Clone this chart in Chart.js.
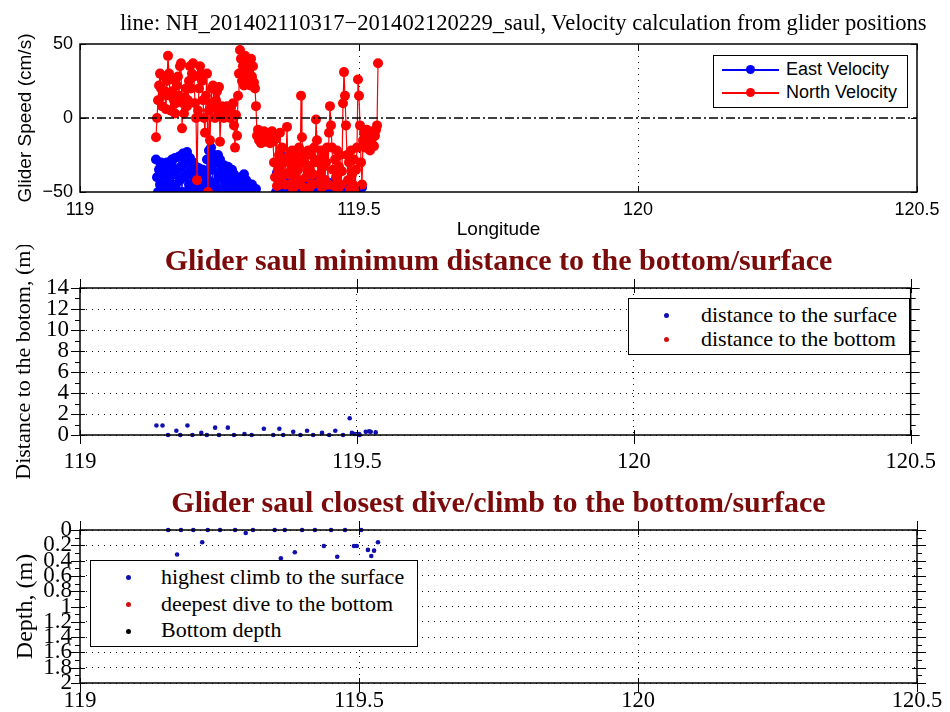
<!DOCTYPE html>
<html><head><meta charset="utf-8">
<script src="https://cdn.jsdelivr.net/npm/chart.js@4.4.1/dist/chart.umd.min.js"></script>
<style>
html,body{margin:0;padding:0;background:#fff;}
#wrap{position:relative;width:950px;height:712px;overflow:hidden;background:#fff;}
canvas{position:absolute;left:0;}
.txt{position:absolute;white-space:nowrap;line-height:1;color:#000;}
.serif{font-family:"Liberation Serif","Times New Roman",serif;}
.sans{font-family:"Liberation Sans",Arial,sans-serif;}
.ptitle{font-weight:bold;color:#7b0a0a;font-size:30px;text-align:center;left:80px;width:837px;}
.leg{position:absolute;background:#fff;border:1.5px solid #000;box-sizing:border-box;}
.row{position:absolute;white-space:nowrap;line-height:1;color:#000;}
.dot{position:absolute;width:5px;height:5px;border-radius:50%;}
.lline{position:absolute;height:1.5px;}
.ldot{position:absolute;width:9px;height:9px;border-radius:50%;}
</style></head><body><div id="wrap">
<canvas id="c1" width="950" height="245" style="top:0"></canvas>
<canvas id="c2" width="950" height="245" style="top:245px"></canvas>
<canvas id="c3" width="950" height="222" style="top:490px"></canvas>

<div class="txt serif" style="left:120px;top:12px;font-size:22.6px;">line: NH_201402110317−201402120229_saul, Velocity calculation from glider positions</div>
<div class="txt serif ptitle" style="top:245px;">Glider saul minimum distance to the bottom/surface</div>
<div class="txt serif ptitle" style="top:487px;">Glider saul closest dive/climb to the bottom/surface</div>

<div class="leg" style="left:713px;top:55px;width:195px;height:53px;">
  <div class="lline" style="left:8px;top:13px;width:57px;background:#0000ff;"></div>
  <div class="ldot" style="left:32px;top:9px;background:#0000ff;"></div>
  <div class="row sans" style="left:72px;top:4px;font-size:18px;">East Velocity</div>
  <div class="lline" style="left:8px;top:36px;width:57px;background:#ff0000;"></div>
  <div class="ldot" style="left:32px;top:32px;background:#ff0000;"></div>
  <div class="row sans" style="left:72px;top:27px;font-size:18px;">North Velocity</div>
</div>

<div class="leg" style="left:628px;top:298px;width:282px;height:57px;">
  <div class="dot" style="left:35px;top:14px;background:#1010b0;"></div>
  <div class="row serif" style="left:72px;top:5px;font-size:22px;">distance to the surface</div>
  <div class="dot" style="left:35px;top:38px;background:#d01010;"></div>
  <div class="row serif" style="left:72px;top:29px;font-size:22px;">distance to the bottom</div>
</div>

<div class="leg" style="left:90px;top:560px;width:328px;height:87px;">
  <div class="dot" style="left:35px;top:14px;background:#1010b0;"></div>
  <div class="row serif" style="left:70px;top:5px;font-size:22px;">highest climb to the surface</div>
  <div class="dot" style="left:35px;top:41px;background:#d01010;"></div>
  <div class="row serif" style="left:70px;top:32px;font-size:22px;">deepest dive to the bottom</div>
  <div class="dot" style="left:35px;top:68px;background:#000;"></div>
  <div class="row serif" style="left:70px;top:58px;font-size:22px;">Bottom depth</div>
</div>
</div>
<script>
// ---------- DATA ----------
const xTickVals = [119, 119.5, 120, 120.5];
const xTickLabels = ['119', '119.5', '120', '120.5'];
const speedTickVals = [-50, 0, 50];
const speedTickLabels = ['\u221250', '0', '50'];
const distTickVals = [0, 2, 4, 6, 8, 10, 12, 14];
const distTickLabels = ['0', '2', '4', '6', '8', '10', '12', '14'];
const depthTickVals = [0, 0.2, 0.4, 0.6, 0.8, 1, 1.2, 1.4, 1.6, 1.8, 2];
const depthTickLabels = ['0', '0.2', '0.4', '0.6', '0.8', '1', '1.2', '1.4', '1.6', '1.8', '2'];

// glider positions (longitude) of the velocity estimates
const velLon = [
119.1362,119.1380,119.1398,119.1416,119.1434,119.1452,119.1470,119.1487,119.1505,119.1523,
119.1541,119.1559,119.1577,119.1595,119.1613,119.1631,119.1649,119.1667,119.1685,119.1703,
119.1720,119.1738,119.1756,119.1774,119.1792,119.1810,119.1828,119.1846,119.1864,119.1882,
119.1900,119.1918,119.1935,119.1953,119.1971,119.1989,119.2007,119.2025,119.2043,119.2061,
119.2079,119.2097,119.2115,119.2133,119.2151,119.2168,119.2186,119.2204,119.2222,119.2240,
119.2258,119.2276,119.2294,119.2312,119.2330,119.2348,119.2366,119.2384,119.2401,119.2419,
119.2437,119.2455,119.2473,119.2491,119.2509,119.2527,119.2545,119.2563,119.2581,119.2599,
119.2616,119.2634,119.2652,119.2670,119.2688,119.2706,119.2724,119.2742,119.2760,119.2778,
119.2796,119.2814,119.2832,119.2849,119.2867,119.2885,119.2903,119.2921,119.2939,119.2957,
119.2975,119.2993,119.3011,119.3029,119.3047,119.3065,119.3082,119.3100,119.3118,119.3136,
119.3154,119.3172,119.3190,119.3208,119.3226,119.3244,119.3262,119.3280,119.3297,119.3315,
119.3333,119.3351,119.3369,119.3387,119.3405,119.3423,119.3441,119.3459,119.3477,119.3495,
119.3513,119.3530,119.3548,119.3566,119.3584,119.3602,119.3620,119.3638,119.3656,119.3674,
119.3692,119.3710,119.3728,119.3746,119.3763,119.3781,119.3799,119.3817,119.3835,119.3853,
119.3871,119.3889,119.3907,119.3925,119.3943,119.3961,119.3978,119.3996,119.4014,119.4032,
119.4050,119.4068,119.4086,119.4104,119.4122,119.4140,119.4158,119.4176,119.4194,119.4211,
119.4229,119.4247,119.4265,119.4283,119.4301,119.4319,119.4337,119.4355,119.4373,119.4391,
119.4409,119.4427,119.4444,119.4462,119.4480,119.4498,119.4516,119.4534,119.4552,119.4570,
119.4588,119.4606,119.4624,119.4642,119.4659,119.4677,119.4695,119.4713,119.4731,119.4749,
119.4767,119.4785,119.4803,119.4821,119.4839,119.4857,119.4875,119.4892,119.4910,119.4928,
119.4946,119.4964,119.4982,119.5000,119.5018,119.5036,119.5054,119.5072,119.5090,119.5108,
119.5125,119.5143,119.5161,119.5179,119.5197,119.5215,119.5233,119.5251,119.5269,119.5287,
119.5305,119.5323,119.5341];
const northVel = [
-13,0,12,22,30,20,8,15,28,18,
6,25,42,30,15,5,18,26,12,3,
10,22,28,15,35,37,-7,10,3,14,
20,8,12,25,35,20,30,37,28,10,
0,-42,5,20,35,30,25,12,0,-10,
15,30,-50,5,-15,10,20,22,8,0,
12,18,5,21,-16,2,8,5,0,6,
3,8,2,5,0,7,3,10,-5,-20,
2,-12,15,30,46,40,25,35,22,42,
30,38,25,32,22,40,28,35,24,20,
8,-12,-8,-15,-12,-17,-10,-14,-9,-16,
-12,-10,-15,-13,-17,-11,-9,-16,-30,-40,
-14,-46,-35,-25,-10,-44,-20,-38,-30,-45,
-28,-6,-38,-25,-45,-35,-22,-48,-30,-40,
-25,-45,-35,-20,-42,15,-13,-30,-47,-25,
-40,-32,-22,-48,-35,-25,-45,-38,-20,-30,
-1,-15,-44,-28,-38,-22,-47,-33,-25,-42,
-30,-20,-45,-10,8,-5,-20,-35,-46,-28,
-40,-22,-48,-33,-25,-45,-36,10,31,15,
-5,-25,-42,-30,-48,-22,-38,-45,-28,-50,
-35,-20,26,15,-5,-30,-45,-15,-10,-20,
-12,-8,-18,-15,-22,-10,-14,-9,-19,-12,
-8,-5,37];
const eastVel = [
-28,-40,-50,-35,-45,-30,-48,-38,-50,-35,
-44,-30,-50,-40,-32,-46,-28,-50,-38,-27,
-45,-35,-50,-26,-42,-33,-50,-24,-40,-30,
-50,-23,-38,-45,-27,-50,-35,-30,-48,-40,
-33,-50,-42,-34,-48,-38,-50,-35,-45,-40,
-50,-28,-42,-22,-48,-20,-35,-50,-25,-44,
-30,-50,-25,-40,-28,-48,-35,-50,-32,-45,
-38,-50,-33,-46,-40,-50,-35,-48,-38,-50,
-45,-42,-50,-45,-48,-40,-50,-44,-38,-50,
-42,-48,-44,-50,-46,-49,-45,-50,-48,-50,
-48,-60,-62,-58,-65,-60,-63,-58,-61,-60,
-62,-59,-63,-60,-61,-58,-64,-60,-62,-55,
-50,-37,-48,-42,-50,-30,-26,-45,-50,-40,
-48,-44,-50,-46,-45,-50,-42,-48,-50,-40,
-47,-50,-44,-49,-46,-50,-45,-48,-50,-42,
-47,-50,-45,-49,-46,-50,-44,-48,-50,-40,
-46,-50,-44,-49,-45,-50,-43,-48,-50,-42,
-47,-50,-45,-49,-46,-50,-44,-48,-50,-45,
-49,-47,-50,-48,-46,-50,-47,-49,-50,-47,
-50,-48,-49,-50,-48,-51,-50,-49,-52,-50,
-51,-53,-50,-55,-52,-54,-47,-58,-60,-62,
-58,-60,-61,-59,-60,-62,-58,-61,-60,-59,
-60,-62,-61];
const zeroLon = [119, 120.5];
const zeroVel = [0, 0];

// minimum distance to the surface
const surfLon = [119.138,119.149,119.159,119.174,119.181,119.194,119.203,119.219,119.229,119.244,
119.251,119.267,119.278,119.297,119.310,119.332,119.349,119.360,119.367,119.385,
119.398,119.410,119.421,119.437,119.450,119.461,119.475,119.487,119.491,119.496,
119.504,119.505,119.516,119.522,119.525,119.534];
const surfDist = [0.9,0.9,0.0,0.4,0.0,0.9,0.0,0.2,0.0,0.7,
0.0,0.7,0.0,0.1,0.0,0.6,0.0,0.6,0.0,0.3,
0.0,0.4,0.0,0.2,0.0,0.4,0.0,1.6,0.2,0.1,
0.1,0.0,0.3,0.35,0.3,0.25];
const bottomLon = [];
const bottomDist = [];

// highest climb to the surface
const climbLon = [119.158,119.174,119.181,119.203,119.219,119.229,119.251,119.278,119.297,119.310,
119.349,119.360,119.367,119.385,119.398,119.421,119.437,119.450,119.461,119.475,
119.491,119.496,119.504,119.516,119.522,119.527,119.534];
const climbDepth = [0,0.32,0,0,0.16,0,0,0,0.04,0,
0,0.37,0,0.29,0,0,0.21,0,0.35,0,
0.21,0.21,0,0.26,0.34,0.27,0.16];
const diveLon = [];
const diveDepth = [];
const bedLon = [];
const bedDepth = [];

// ---------- HELPERS ----------
const FS = '"Liberation Sans", Arial, sans-serif';
const FR = '"Liberation Serif", "Times New Roman", serif';
const pts = (xs, ys) => xs.map((x, i) => ({x: x, y: ys[i]}));
const lab = (vals, labels) => (v) => {
  const k = vals.findIndex(t => Math.abs(t - v) < 1e-6);
  return k >= 0 ? labels[k] : '';
};
const edgeClear = (c) => (c.tick && (Math.abs(c.tick.value - 119) < 1e-6 || Math.abs(c.tick.value - 120.5) < 1e-6)) ? 'rgba(0,0,0,0)' : '#111';

const frame = {
  id: 'frame',
  afterDraw(chart, args, o) {
    const {ctx, chartArea: a} = chart;
    const xs = chart.scales.x, ys = chart.scales.y;
    const Lo = o.outLen, Li = o.inLen;
    ctx.save();
    ctx.setLineDash([]);
    ctx.strokeStyle = '#000';
    ctx.lineWidth = 1;
    ctx.beginPath();
    xs.ticks.forEach(t => {
      const p = Math.round(xs.getPixelForValue(t.value)) + 0.5;
      ctx.moveTo(p, a.top - Lo); ctx.lineTo(p, a.top + Li);
      ctx.moveTo(p, a.bottom + Lo); ctx.lineTo(p, a.bottom - Li);
    });
    const yv = ys.ticks.map(t => t.value);
    yv.forEach(v => {
      const p = Math.round(ys.getPixelForValue(v)) + 0.5;
      ctx.moveTo(a.left - Lo, p); ctx.lineTo(a.left + Li, p);
      ctx.moveTo(a.right + Lo, p); ctx.lineTo(a.right - Li, p);
    });
    if (o.minor) {
      for (let i = 0; i < yv.length - 1; i++) {
        const p = Math.round(ys.getPixelForValue((yv[i] + yv[i + 1]) / 2)) + 0.5;
        ctx.moveTo(a.left, p); ctx.lineTo(a.left - o.minor, p);
        ctx.moveTo(a.right, p); ctx.lineTo(a.right + o.minor, p);
      }
    }
    ctx.stroke();
    ctx.lineWidth = 1.5;
    ctx.strokeRect(a.left, a.top, a.right - a.left, a.bottom - a.top);
    ctx.restore();
  }
};

const base = { responsive: false, animation: false, events: [], devicePixelRatio: 1 };

// ---------- PANEL 1 ----------
new Chart(document.getElementById('c1'), {
  type: 'line',
  data: { datasets: [
    { label: 'zero', data: pts(zeroLon, zeroVel), borderColor: '#000', borderWidth: 1.5,
      borderDash: [9, 3, 2, 3], pointRadius: 0, order: 0 },
    { label: 'North Velocity', data: pts(velLon, northVel), borderColor: '#ff0000', borderWidth: 1.2,
      pointRadius: 5, pointBackgroundColor: '#ff0000', pointBorderWidth: 0, order: 1 },
    { label: 'East Velocity', data: pts(velLon, eastVel), borderColor: '#0000ff', borderWidth: 1.2,
      pointRadius: 5, pointBackgroundColor: '#0000ff', pointBorderWidth: 0, order: 2 }
  ]},
  options: Object.assign({}, base, {
    layout: { padding: { left: 0, right: 33, top: 44, bottom: 0 } },
    plugins: { legend: { display: false }, tooltip: { enabled: false }, frame: { outLen: 0, inLen: 6, minor: 0 } },
    scales: {
      x: { type: 'linear', min: 119, max: 120.5,
        afterFit: s => { s.height = 53; },
        ticks: { stepSize: 0.5, padding: 7, autoSkip: false, maxRotation: 0, color: '#000',
          font: { family: FS, size: 18 }, callback: lab(xTickVals, xTickLabels) },
        grid: { drawTicks: false, color: edgeClear, lineWidth: 1 },
        border: { display: false, dash: [1, 5] },
        title: { display: true, text: 'Longitude', color: '#000', font: { family: FS, size: 19 }, padding: { bottom: 4, top: 0 } } },
      y: { type: 'linear', min: -50, max: 50,
        afterFit: s => { s.width = 80; },
        ticks: { stepSize: 50, padding: 7, autoSkip: false, color: '#000',
          font: { family: FS, size: 18 }, callback: lab(speedTickVals, speedTickLabels) },
        grid: { display: false, drawTicks: false },
        border: { display: false },
        title: { display: true, text: 'Glider Speed (cm/s)', color: '#000', font: { family: FS, size: 19 }, padding: { top: 14, bottom: 0 } } }
    }
  }),
  plugins: [frame]
});

// ---------- PANEL 2 ----------
new Chart(document.getElementById('c2'), {
  type: 'scatter',
  data: { datasets: [
    { label: 'distance to the surface', data: pts(surfLon, surfDist), pointRadius: 2.3,
      pointBackgroundColor: '#1010b0', pointBorderWidth: 0, showLine: false, clip: false },
    { label: 'distance to the bottom', data: pts(bottomLon, bottomDist), pointRadius: 2.3,
      pointBackgroundColor: '#d01010', pointBorderWidth: 0, showLine: false, clip: false }
  ]},
  options: Object.assign({}, base, {
    layout: { padding: { left: 0, right: 33, top: 43, bottom: 0 } },
    plugins: { legend: { display: false }, tooltip: { enabled: false }, frame: { outLen: 9, inLen: 5, minor: 5 } },
    scales: {
      x: { type: 'linear', min: 119, max: 120.5,
        afterFit: s => { s.height = 55; },
        ticks: { stepSize: 0.5, padding: 14, autoSkip: false, maxRotation: 0, color: '#000',
          font: { family: FR, size: 22.5 }, callback: lab(xTickVals, xTickLabels) },
        grid: { drawTicks: false, color: edgeClear, lineWidth: 1 },
        border: { display: false, dash: [1, 5] } },
      y: { type: 'linear', min: 0, max: 14,
        afterFit: s => { s.width = 80; },
        ticks: { stepSize: 2, padding: 11, autoSkip: false, color: '#000',
          font: { family: FR, size: 23 }, callback: lab(distTickVals, distTickLabels) },
        grid: { drawTicks: false, color: '#111', lineWidth: 1 },
        border: { display: false, dash: [1, 5] },
        title: { display: true, text: 'Distance to the botom, (m)', color: '#000', font: { family: FR, size: 22 }, padding: { top: 11, bottom: 0 } } }
    }
  }),
  plugins: [frame]
});

// ---------- PANEL 3 ----------
new Chart(document.getElementById('c3'), {
  type: 'scatter',
  data: { datasets: [
    { label: 'highest climb to the surface', data: pts(climbLon, climbDepth), pointRadius: 2.3,
      pointBackgroundColor: '#1010b0', pointBorderWidth: 0, showLine: false, clip: false },
    { label: 'deepest dive to the bottom', data: pts(diveLon, diveDepth), pointRadius: 2.3,
      pointBackgroundColor: '#d01010', pointBorderWidth: 0, showLine: false, clip: false },
    { label: 'Bottom depth', data: pts(bedLon, bedDepth), pointRadius: 2.3,
      pointBackgroundColor: '#000', pointBorderWidth: 0, showLine: false, clip: false }
  ]},
  options: Object.assign({}, base, {
    layout: { padding: { left: 0, right: 33, top: 40, bottom: 0 } },
    plugins: { legend: { display: false }, tooltip: { enabled: false }, frame: { outLen: 9, inLen: 5, minor: 5 } },
    scales: {
      x: { type: 'linear', min: 119, max: 120.5,
        afterFit: s => { s.height = 29; },
        ticks: { stepSize: 0.5, padding: 5, autoSkip: false, maxRotation: 0, color: '#000',
          font: { family: FR, size: 22.5 }, callback: lab(xTickVals, xTickLabels) },
        grid: { drawTicks: false, color: edgeClear, lineWidth: 1 },
        border: { display: false, dash: [1, 5] } },
      y: { type: 'linear', min: 0, max: 2, reverse: true,
        afterFit: s => { s.width = 80; },
        ticks: { stepSize: 0.2, padding: 8, autoSkip: false, color: '#000',
          font: { family: FR, size: 23 }, callback: lab(depthTickVals, depthTickLabels) },
        grid: { drawTicks: false, color: '#111', lineWidth: 1 },
        border: { display: false, dash: [1, 5] },
        title: { display: true, text: 'Depth, (m)', color: '#000', font: { family: FR, size: 24 }, padding: { top: 11, bottom: 0 } } }
    }
  }),
  plugins: [frame]
});
</script>
</body></html>
